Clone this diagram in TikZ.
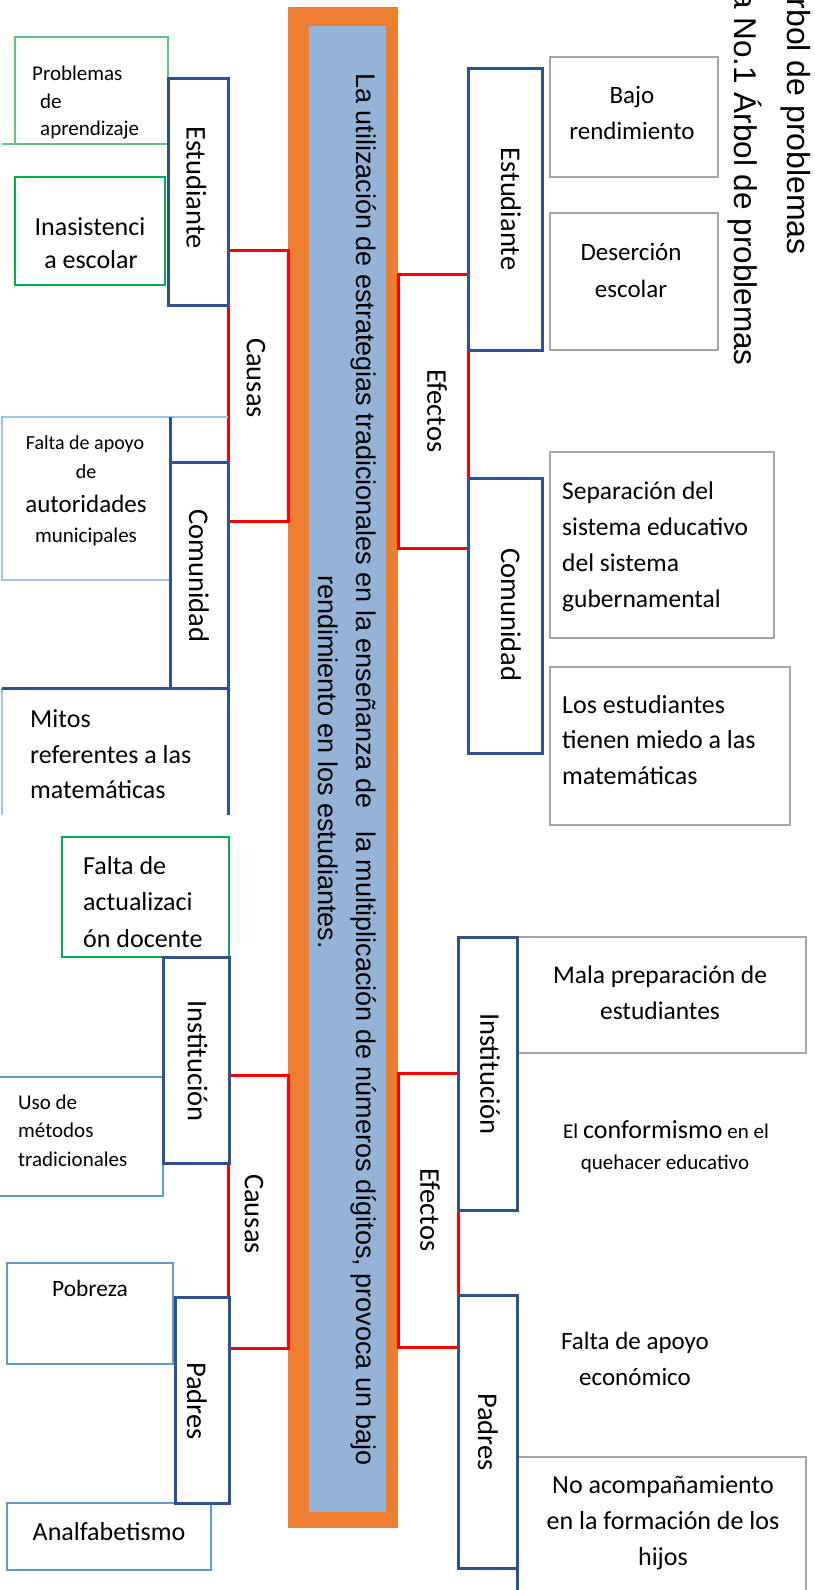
\documentclass[tikz,border=0pt]{standalone}
\usepackage{fontspec}
\setmainfont{Carlito}
\newfontfamily\arialf{Liberation Sans}
\definecolor{dblue}{RGB}{47,82,143}
\definecolor{obar}{RGB}{237,125,49}
\definecolor{bfill}{RGB}{149,179,215}
\definecolor{rline}{RGB}{255,0,0}
\definecolor{gline}{RGB}{166,166,166}
\definecolor{grn}{RGB}{0,176,80}
\definecolor{lgrn}{RGB}{90,200,130}
\definecolor{lblue}{RGB}{157,195,230}
\definecolor{mblue}{RGB}{91,155,213}
\begin{document}
\begin{tikzpicture}[x=1pt,y=-1pt,
  sz/.style 2 args={minimum width=#1, minimum height=#2},
  bx/.style={rectangle, inner sep=0pt, outer sep=0pt},
  dbx/.style={bx, draw=dblue, line width=3pt, fill=white},
  rbx/.style={bx, draw=rline, line width=3pt},
  gbx/.style={bx, draw=gline, line width=2pt, fill=white},
  grbx/.style={bx, draw=grn, line width=2pt},
  lgbx/.style={bx, draw=lgrn, line width=2pt},
  lbbx/.style={bx, draw=lblue, line width=2pt},
  mbbx/.style={bx, draw=mblue, line width=2pt},
  lab/.style={rotate=-90, inner sep=0pt, font=\fontsize{28.5}{34}\selectfont},
  tc/.style={inner sep=0pt, anchor=base, font=\fontsize{#1}{#1}\selectfont},
  tl/.style={inner sep=0pt, anchor=base west, font=\fontsize{#1}{#1}\selectfont},
  vt/.style={rotate=-90, inner sep=0pt, font=\arialf\fontsize{#1}{#1}\selectfont}
]
\useasboundingbox (0,0) rectangle (814,1590);
\clip (0,0) rectangle (814,1590);

% central bar
\node[bx, fill=obar, sz={110}{1521}] (bar) at (343,767.5) {};
\node[bx, fill=bfill, sz={77}{1486}] (core) at (347.5,769) {};

% red brackets
\node[rbx, sz={60}{271}] (cau1) at (258,385.5) {};
\node[rbx, sz={60}{273}] (cau2) at (258,1211.5) {};
\node[rbx, sz={70}{274}] (efe1) at (433,411) {};
\node[rbx, sz={60}{274}] (efe2) at (428,1210) {};

% left top
\node[lgbx, sz={153}{107}] (prob) at (91.5,90.5) {};
\draw[lgrn, line width=2pt] (prob.south west) -- ++(-13,0);
\node[grbx, sz={150}{108}] (inas) at (90,231) {};
\node[dbx, sz={60}{227}] (estL) at (198,191.5) {};
\node[lbbx, sz={168}{163}] (falta) at (86,498.5) {};
\coordinate (fe) at (228,417);
\draw[lblue, line width=2pt] (falta.north east) -- (fe);
\node[dbx, sz={58}{226}] (comL) at (199,575) {};
\draw[dblue, line width=3pt] (falta.north east) -- (comL.north west);
\coordinate (m1) at (2,688);
\coordinate (m2) at (2,815);
\coordinate (m3) at (228,815);
\draw[lblue, line width=2pt] (m1) -- (m2);
\draw[dblue, line width=3pt] (m1) -- (comL.south east) -- (m3);

% left bottom
\node[grbx, sz={167}{120}] (fact) at (145.5,897) {};
\node[mbbx, sz={166}{119}] (uso) at (80,1136.5) {};
\node[dbx, sz={66}{206}] (instL) at (196,1060) {};
\node[mbbx, sz={166}{101}] (pob) at (90,1313.5) {};
\node[mbbx, sz={204}{67}] (analf) at (109,1536.5) {};
\node[dbx, sz={54}{206}] (padL) at (202,1400) {};

% right top
\node[dbx, sz={74}{282}] (estR) at (505,209) {};
\node[gbx, sz={168}{120}] (bajo) at (634,117) {};
\node[gbx, sz={168}{137}] (deser) at (634,281.5) {};
\node[dbx, sz={74}{275}] (comR) at (505,615.5) {};
\node[gbx, sz={224}{186}] (sep) at (662,545) {};
\node[gbx, sz={240}{158}] (los) at (670,746) {};

% right bottom
\node[gbx, sz={289}{116}] (mala) at (661.5,995) {};
\node[dbx, sz={59}{273}] (instR) at (487.5,1073.5) {};
\node[gbx, sz={289}{153}] (noac) at (661.5,1533.5) {};
\node[dbx, sz={59}{273}] (padR) at (487.5,1431.5) {};
\coordinate (pe) at (517,1600);
\draw[dblue, line width=3pt] (padR.south east) -- (pe);

% vertical labels
\node[lab] (tEstL) at (196.5,187.5) {Estudiante};
\node[lab] (tComL) at (199,576) {Comunidad};
\node[lab] (tInstL) at (197.5,1061) {Institución};
\node[lab] (tPadL) at (197,1401) {Padres};
\node[lab] (tCau1) at (256,378) {Causas};
\node[lab] (tCau2) at (254,1214) {Causas};
\node[lab] (tEfe1) at (437,411) {Efectos};
\node[lab] (tEfe2) at (430,1210) {Efectos};
\node[lab] (tEstR) at (511,209) {Estudiante};
\node[lab] (tComR) at (511,615) {Comunidad};
\node[lab] (tInstR) at (490,1074) {Institución};
\node[lab] (tPadR) at (488,1432) {Padres};

% central text
\node[vt=27, anchor=base west] (main1) at (356,73) {La utilización de estrategias tradicionales en la enseñanza de\hspace{0.56em} la multiplicación de números dígitos, provoca un bajo};
\node[vt=27, anchor=base west] (main2) at (318,575) {rendimiento en los estudiantes.};

% title
\node[vt=32, anchor=base east] (tit1) at (787,255) {Árbol de problemas};
\node[vt=31.5, anchor=base east] (tit2) at (734,366) {a No.1 Árbol de problemas};

% left texts
\node[tl=21] (p1) at (32,80) {Problemas};
\node[tl=21] (p2) at (40,108) {de};
\node[tl=21] (p3) at (40,135) {aprendizaje};
\node[tc=26] (i1) at (90,235) {Inasistenci};
\node[tc=26] (i2) at (91,268) {a escolar};
\node[tc=20] (f1) at (85,449) {Falta de apoyo};
\node[tc=20] (f2) at (86,478) {de};
\node[tc=25] (f3) at (86,512) {autoridades};
\node[tc=21] (f4) at (86,542) {municipales};
\node[tl=26] (mi1) at (30,727) {Mitos};
\node[tl=26] (mi2) at (30,763) {referentes a las};
\node[tl=26] (mi3) at (30,798) {matemáticas};
\node[tl=26] (a1) at (83,874) {Falta de};
\node[tl=26] (a2) at (83,910) {actualizaci};
\node[tl=26] (a3) at (83,947) {ón docente};
\node[tl=21] (u1) at (18,1109) {Uso de};
\node[tl=21] (u2) at (18,1137) {métodos};
\node[tl=21] (u3) at (18,1166) {tradicionales};
\node[tc=23.4] (pb) at (90,1296) {Pobreza};
\node[tc=26] (an) at (109,1540) {Analfabetismo};

% right texts
\node[tc=25] (b1) at (632,103) {Bajo};
\node[tc=25] (b2) at (632,139) {rendimiento};
\node[tc=25] (d1) at (631,260) {Deserción};
\node[tc=25] (d2) at (631,297) {escolar};
\node[tl=25.5] (s1) at (562,499) {Separación del};
\node[tl=25.5] (s2) at (562,535) {sistema educativo};
\node[tl=25.5] (s3) at (562,571) {del sistema};
\node[tl=25.5] (s4) at (562,607) {gubernamental};
\node[tl=26] (l1) at (562,713) {Los estudiantes};
\node[tl=26] (l2) at (562,748) {tienen miedo a las};
\node[tl=26] (l3) at (562,784) {matemáticas};
\node[tc=25.5] (ma1) at (660,983) {Mala preparación de};
\node[tc=25.5] (ma2) at (660,1019) {estudiantes};
\node[tc=21] (c1) at (666,1138) {El {\fontsize{26}{26}\selectfont conformismo} en el};
\node[tc=21] (c2) at (665,1169) {quehacer educativo};
\node[tc=25] (e1) at (635,1349) {Falta de apoyo};
\node[tc=25] (e2) at (635,1385) {económico};
\node[tc=26] (n1) at (663,1493) {No acompañamiento};
\node[tc=26] (n2) at (663,1529) {en la formación de los};
\node[tc=26] (n3) at (663,1565) {hijos};
\end{tikzpicture}
\end{document}
